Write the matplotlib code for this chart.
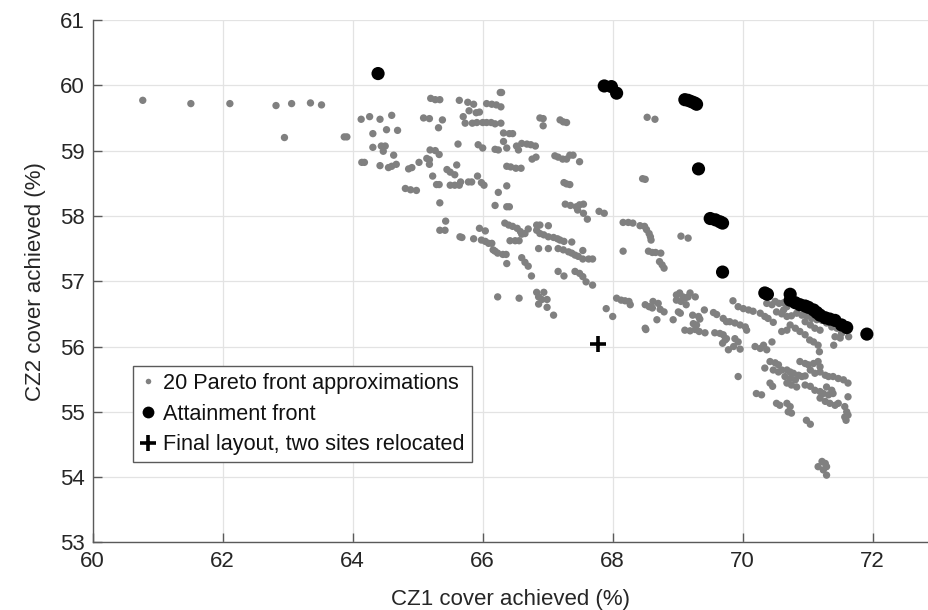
import matplotlib
matplotlib.use("Agg")
import matplotlib.pyplot as plt
from matplotlib.lines import Line2D

# ---- data ----
pareto_x = [
    60.77, 61.51, 62.11, 62.82, 63.06, 63.35, 63.52, 62.95, 63.87, 63.91,
    64.13, 64.26, 64.42, 64.60, 64.31, 64.52, 64.69, 64.31, 64.44, 64.50,
    64.47, 64.63, 64.14, 64.18, 64.42, 64.55, 64.60, 64.67, 64.86, 64.91,
    65.02, 65.14, 65.18, 65.18, 65.23, 65.29, 65.33, 64.81, 64.89, 64.98,
    65.09, 65.18, 65.20, 65.27, 65.34, 65.38, 65.32, 65.19, 65.27, 65.33,
    65.34, 65.43, 65.34, 65.42,
    66.27, 66.29, 65.64, 65.77, 65.86, 66.06, 66.14, 66.21, 66.28,
    65.79, 65.90, 65.95, 65.70,
    65.73, 65.84, 65.91, 66.00, 66.06, 66.13, 66.19, 66.28,
    66.32, 66.41, 66.46, 66.88, 66.93, 66.93, 67.19, 67.24, 67.29,
    66.32, 66.37, 66.24, 66.19, 66.52, 66.60, 66.68, 66.74, 66.81, 66.55,
    65.62, 65.93, 66.00, 66.76, 66.82,
    67.11, 67.16, 67.23, 67.29, 67.34, 67.39, 67.49,
    66.37, 66.43, 66.51, 66.59, 65.45, 65.50, 65.57, 65.60,
    65.92, 65.98, 66.02, 65.50, 65.57, 65.64, 65.66, 65.78, 65.83,
    66.37, 66.24, 67.25, 67.29, 67.34, 66.19, 66.37, 66.41,
    67.27, 67.35, 67.44, 67.49, 67.55, 67.46, 67.55, 67.61, 67.79, 67.87,
    68.46, 68.50, 68.53, 68.65, 65.65, 65.68,
    65.86, 65.98, 66.04, 66.09, 66.14, 66.16, 66.19, 66.23,
    65.95, 66.04, 66.31, 66.36,
    66.34, 66.40, 66.46, 66.53, 66.58, 66.60, 66.65,
    66.42, 66.50, 66.56, 66.70, 66.83, 66.88, 67.01,
    66.83, 66.88, 66.94, 67.01, 67.09, 67.15, 67.19, 67.25, 67.37,
    66.86, 67.01, 67.16, 67.24, 67.32, 67.37, 67.42, 67.47, 67.54, 67.63, 67.69,
    67.54, 66.37, 66.60, 66.65, 66.70, 66.75, 67.16,
    66.23, 66.56, 66.83, 66.94, 66.86, 66.91, 66.99, 66.86, 66.99, 67.09,
    68.16, 68.24, 68.31, 68.42, 68.49, 68.52, 68.56, 68.58, 68.59,
    69.05, 69.16, 68.16, 68.55, 68.61, 68.66, 68.74, 68.72, 68.76, 68.79,
    67.25, 67.42, 67.49, 67.54, 67.59, 67.69,
    68.06, 68.13, 68.19, 68.25, 68.27, 67.90, 68.00,
    68.50, 68.56, 68.62, 68.70, 68.61, 68.73, 68.79, 68.68, 68.50, 68.51, 68.93,
    68.98, 69.03, 69.08, 69.11, 69.16, 69.19, 69.27, 69.05, 69.13, 68.98,
    69.01, 69.04, 69.23, 69.32, 69.34, 69.41,
    69.24, 69.29, 69.11, 69.19, 69.27, 69.33, 69.42, 69.55, 69.60, 69.70, 69.75,
    69.57, 69.65, 69.70, 69.73, 69.75, 69.69, 69.78,
    69.85, 69.93, 70.01, 70.09, 70.16, 70.27, 70.34, 70.39, 70.47, 70.37, 70.45,
    70.50, 70.56, 70.63, 70.68, 70.63, 70.52, 70.60, 70.68, 70.75, 70.83,
    70.91, 70.98, 71.06, 71.14, 71.22, 71.29, 71.37, 71.45, 71.52, 71.63,
    70.60, 70.68, 70.73, 70.81, 70.88, 70.96, 71.03, 71.09, 71.16, 71.18,
    70.96, 71.04, 71.11, 71.19, 71.40, 71.42, 71.50,
    69.80, 69.88, 69.96, 70.04, 70.06, 69.88, 69.93, 69.86, 69.96,
    70.19, 70.27, 70.32, 70.37, 70.45,
    69.93, 70.21, 70.29, 70.42, 70.46, 70.34,
    70.42, 70.50, 70.55, 70.47, 70.55, 70.60, 70.68, 70.73, 70.78, 70.86,
    70.91, 70.96, 70.65, 70.73, 70.81, 70.68, 70.75, 70.83,
    70.88, 70.96, 71.01, 71.09, 71.16, 71.19, 71.04, 71.11, 71.19, 71.27,
    71.32, 71.39, 71.47, 71.55, 71.62,
    70.96, 71.04, 71.11, 71.19, 71.24, 71.32, 71.39, 71.29, 71.37, 71.19,
    71.27, 71.34, 71.42, 71.47, 71.62, 71.57, 71.60, 71.57, 71.62, 71.59,
    70.52, 70.57, 70.68, 70.73, 70.70, 70.75, 70.98, 71.04,
    71.16, 71.22, 71.27, 71.29, 71.24, 71.29,
]
pareto_y = [
    59.77, 59.72, 59.72, 59.69, 59.72, 59.73, 59.70, 59.20, 59.21, 59.21,
    59.48, 59.52, 59.48, 59.54, 59.26, 59.32, 59.31, 59.05, 59.07, 59.07,
    58.99, 58.93, 58.82, 58.82, 58.77, 58.74, 58.76, 58.79, 58.72, 58.74,
    58.82, 58.88, 58.79, 58.86, 58.61, 58.48, 58.48, 58.42, 58.40, 58.39,
    59.50, 59.49, 59.80, 59.78, 59.78, 59.47, 59.35, 59.01, 59.00, 58.94,
    58.20, 57.92, 57.78, 57.78,
    59.89, 59.89, 59.77, 59.74, 59.71, 59.72, 59.71, 59.70, 59.67,
    59.61, 59.58, 59.59, 59.52,
    59.42, 59.42, 59.43, 59.43, 59.43, 59.43, 59.41, 59.42,
    59.27, 59.26, 59.26, 59.50, 59.49, 59.38, 59.47, 59.44, 59.43,
    59.14, 59.04, 59.01, 59.02, 59.07, 59.11, 59.10, 59.09, 59.07, 59.01,
    59.10, 59.09, 59.04, 58.87, 58.90,
    58.92, 58.90, 58.87, 58.87, 58.93, 58.93, 58.83,
    58.76, 58.75, 58.73, 58.73, 58.71, 58.67, 58.63, 58.78,
    58.61, 58.51, 58.47, 58.47, 58.47, 58.47, 58.52, 58.52, 58.52,
    58.46, 58.36, 58.51, 58.49, 58.48, 58.16, 58.14, 58.14,
    58.18, 58.16, 58.14, 58.17, 58.18, 58.09, 58.04, 57.95, 58.07, 58.04,
    58.57, 58.56, 59.51, 59.48, 57.68, 57.67,
    57.65, 57.63, 57.61, 57.58, 57.58, 57.48, 57.46, 57.43,
    57.81, 57.77, 57.41, 57.41,
    57.89, 57.86, 57.84, 57.81, 57.76, 57.72, 57.73,
    57.62, 57.62, 57.62, 57.80, 57.86, 57.86, 57.85,
    57.78, 57.73, 57.71, 57.68, 57.67, 57.65, 57.63, 57.61, 57.60,
    57.50, 57.50, 57.50, 57.48, 57.45, 57.43, 57.40, 57.38, 57.34, 57.34, 57.34,
    57.47, 57.27, 57.36, 57.29, 57.23, 57.08, 57.15,
    56.76, 56.74, 56.83, 56.83, 56.76, 56.72, 56.72, 56.65, 56.60, 56.48,
    57.90, 57.90, 57.89, 57.85, 57.84, 57.79, 57.73, 57.68, 57.63,
    57.69, 57.66, 57.46, 57.46, 57.44, 57.44, 57.43, 57.30, 57.25, 57.20,
    57.08, 57.15, 57.12, 57.07, 56.99, 56.94,
    56.74, 56.71, 56.70, 56.69, 56.64, 56.58, 56.46,
    56.64, 56.61, 56.69, 56.66, 56.59, 56.57, 56.53, 56.41, 56.28, 56.26, 56.41,
    56.79, 56.82, 56.76, 56.74, 56.76, 56.82, 56.76, 56.69, 56.64, 56.71,
    56.53, 56.51, 56.48, 56.46, 56.42, 56.56,
    56.35, 56.33, 56.25, 56.24, 56.26, 56.23, 56.21, 56.52, 56.49, 56.43, 56.38,
    56.21, 56.20, 56.18, 56.10, 56.12, 56.05, 55.95,
    56.70, 56.61, 56.58, 56.56, 56.54, 56.51, 56.46, 56.43, 56.37, 56.66, 56.64,
    56.69, 56.66, 56.67, 56.61, 56.56, 56.53, 56.50, 56.46, 56.47, 56.51,
    56.48, 56.47, 56.43, 56.41, 56.40, 56.36, 56.30, 56.28, 56.20, 56.15,
    56.23, 56.25, 56.33, 56.28, 56.23, 56.18, 56.10, 56.07, 56.02, 55.92,
    56.38, 56.33, 56.28, 56.25, 56.02, 56.15, 56.13,
    56.38, 56.36, 56.33, 56.30, 56.25, 56.12, 56.07, 56.00, 55.96,
    56.00, 55.97, 56.02, 55.95, 56.07,
    55.54, 55.28, 55.26, 55.44, 55.39, 55.67,
    55.77, 55.75, 55.72, 55.64, 55.61, 55.64, 55.64, 55.61, 55.59, 55.56,
    55.54, 55.55, 55.54, 55.51, 55.49, 55.44, 55.41, 55.38,
    55.77, 55.74, 55.72, 55.74, 55.77, 55.69, 55.64, 55.59, 55.61, 55.56,
    55.54, 55.54, 55.51, 55.49, 55.44,
    55.41, 55.39, 55.33, 55.31, 55.28, 55.26, 55.28, 55.38, 55.33, 55.21,
    55.16, 55.13, 55.10, 55.13, 55.23, 55.08, 55.00, 54.92, 54.95, 54.87,
    55.13, 55.10, 55.13, 55.08, 55.00, 54.98, 54.87, 54.81,
    54.16, 54.24, 54.21, 54.16, 54.11, 54.03,
]

front_x = [64.39, 67.87, 67.98, 68.06, 69.11, 69.16, 69.21, 69.26, 69.29,
           69.32, 69.50, 69.58, 69.65, 69.69, 69.69, 70.34, 70.38, 70.73,
           70.73, 70.81, 70.88, 70.96, 71.01, 71.09, 71.14, 71.19, 71.27,
           71.34, 71.42, 71.52, 71.60, 71.91]
front_y = [60.18, 59.99, 59.98, 59.88, 59.78, 59.77, 59.75, 59.73, 59.71,
           58.72, 57.96, 57.94, 57.91, 57.89, 57.14, 56.82, 56.80, 56.80,
           56.71, 56.67, 56.64, 56.62, 56.60, 56.56, 56.52, 56.48, 56.44,
           56.42, 56.40, 56.33, 56.29, 56.19]

final_x = [67.77]
final_y = [56.04]

legend_labels = ["20 Pareto front approximations", "Attainment front",
                 "Final layout, two sites relocated"]
x_ticks = [60, 62, 64, 66, 68, 70, 72]
y_ticks = [53, 54, 55, 56, 57, 58, 59, 60, 61]

# ---- figure ----
plt.rcParams['font.family'] = ['Liberation Sans', 'DejaVu Sans']
FS = 16.0
fig = plt.figure(figsize=(9.29, 6.10), dpi=100)
ax = fig.add_axes([0.0998, 0.1108, 0.9002, 0.8564])

gray = '#808080'
ax.scatter(pareto_x, pareto_y, s=28, color=gray, edgecolors='none', zorder=3)
ax.scatter(front_x, front_y, s=90, color='black', edgecolors='none', zorder=4)
ax.plot(final_x, final_y, ls='none', marker='+', ms=11, mew=2.6,
        color='black', zorder=5)

ax.set_xlim(60, 72.866)
ax.set_ylim(53, 61)
ax.set_xticks(x_ticks)
ax.set_yticks(y_ticks)
ax.grid(True, color='#e3e3e3', linewidth=0.9, zorder=0)
ax.set_axisbelow(True)
for side in ('top', 'right'):
    ax.spines[side].set_visible(False)
for side in ('left', 'bottom'):
    ax.spines[side].set_color('#5a5a5a')
    ax.spines[side].set_linewidth(1.0)
ax.tick_params(direction='in', length=6.5, width=1.0, color='#5a5a5a',
               labelsize=FS, labelcolor='#262626', pad=6)

ax.set_xlabel("CZ1 cover achieved (%)", fontsize=FS, color='#262626',
              labelpad=12.5)
ax.set_ylabel("CZ2 cover achieved (%)", fontsize=FS, color='#262626',
              labelpad=10)

handles = [
    Line2D([], [], ls='none', marker='o', ms=4, color=gray, mec='none'),
    Line2D([], [], ls='none', marker='o', ms=8.5, color='black', mec='none'),
    Line2D([], [], ls='none', marker='+', ms=11, mew=2.6, color='black'),
]
leg = ax.legend(handles, legend_labels, loc='upper left',
                bbox_to_anchor=(0.0478, 0.3377), borderaxespad=0,
                fontsize=15.6, frameon=True, fancybox=False,
                handlelength=0.8, handletextpad=0.3, labelspacing=0.45,
                borderpad=0.32)
leg.get_frame().set_edgecolor('#5a5a5a')
leg.get_frame().set_linewidth(1.0)
leg.get_frame().set_alpha(1.0)
for t in leg.get_texts():
    t.set_color('#111111')

fig.savefig("out.png", dpi=100)
